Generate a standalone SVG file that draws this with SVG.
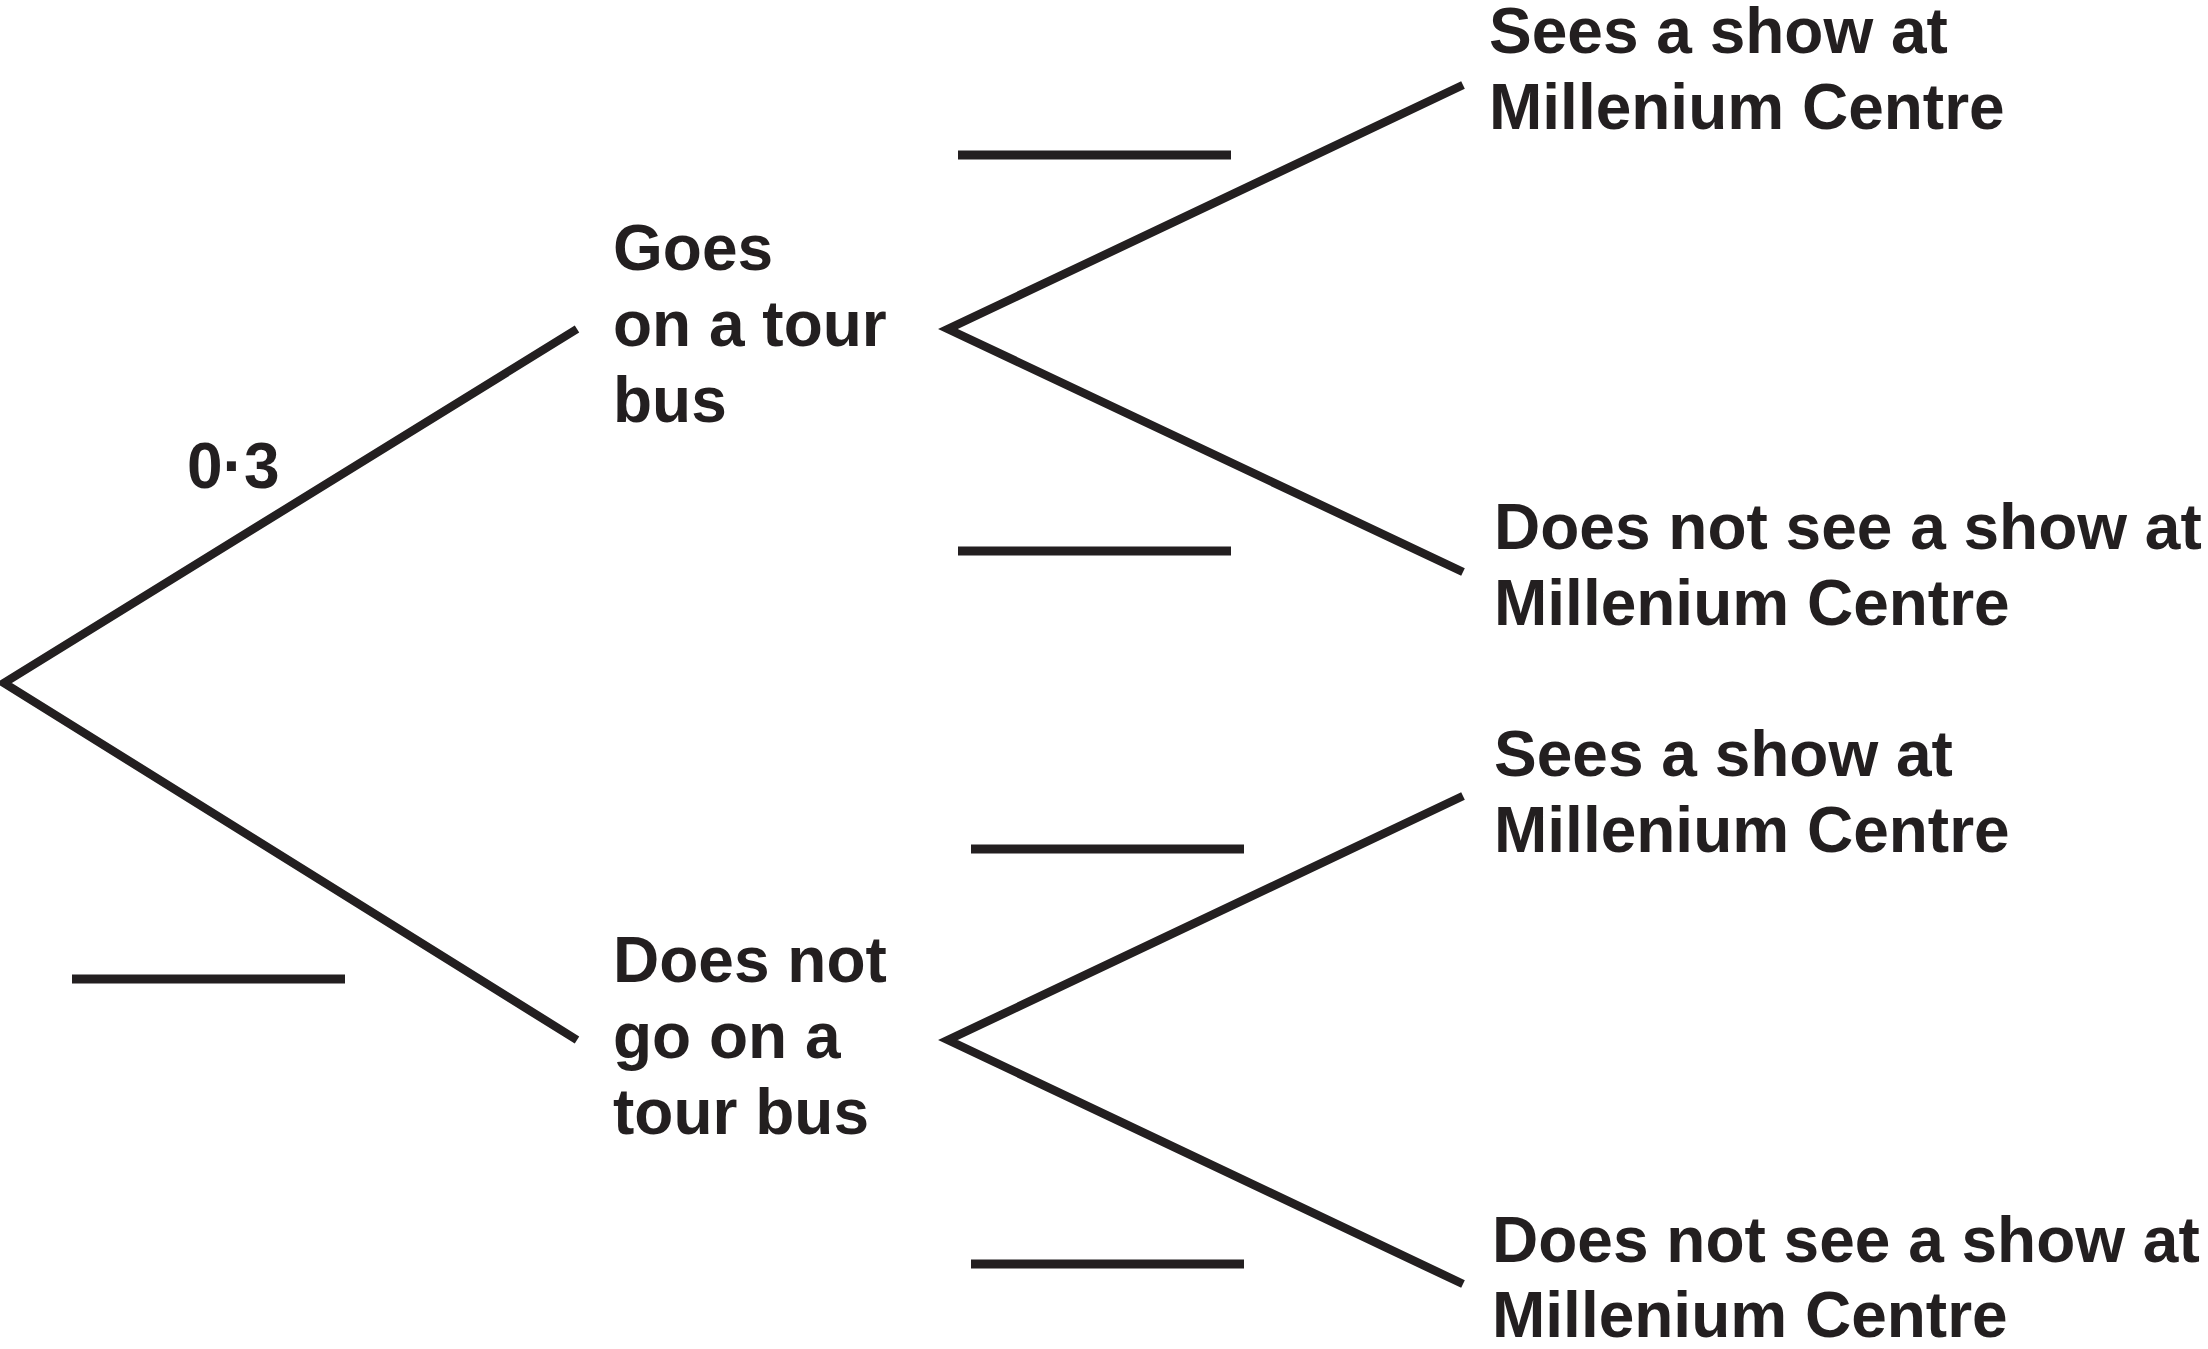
<svg xmlns="http://www.w3.org/2000/svg" width="2208" height="1349" viewBox="0 0 2208 1349">
<style>
.ln{fill:none;stroke:#231f20;stroke-width:8.5;stroke-linecap:butt;stroke-linejoin:miter;stroke-miterlimit:20}
.bl{stroke:#231f20;stroke-width:9}
text{font-family:"Liberation Sans",Arial,sans-serif;font-weight:bold;font-size:64px;fill:#231f20}
</style>
<rect width="2208" height="1349" fill="#ffffff"/>
<g id="connectors">
<polyline class="ln" points="577,329 4,683 577,1040"/>
<polyline class="ln" points="1463,85 948,329 1463,572"/>
<polyline class="ln" points="1463,796 948,1040 1463,1284"/>
</g>
<g id="blanks">
<line class="bl" x1="72" y1="979" x2="345" y2="979"/>
<line class="bl" x1="958" y1="155" x2="1231" y2="155"/>
<line class="bl" x1="958" y1="551" x2="1231" y2="551"/>
<line class="bl" x1="971" y1="849" x2="1244" y2="849"/>
<line class="bl" x1="971" y1="1264" x2="1244" y2="1264"/>
</g>
<g id="prob">
<text x="187" y="488">0·3</text>
</g>
<g id="node-goes">
<text x="613" y="270">Goes</text>
<text x="613" y="346">on a tour</text>
<text x="613" y="422">bus</text>
</g>
<g id="node-not-goes">
<text x="613" y="982">Does not</text>
<text x="613" y="1058">go on a</text>
<text x="613" y="1134">tour bus</text>
</g>
<g id="leaf-1">
<text x="1489" y="53">Sees a show at</text>
<text x="1489" y="129">Millenium Centre</text>
</g>
<g id="leaf-2">
<text x="1494" y="549">Does not see a show at</text>
<text x="1494" y="625">Millenium Centre</text>
</g>
<g id="leaf-3">
<text x="1494" y="776">Sees a show at</text>
<text x="1494" y="852">Millenium Centre</text>
</g>
<g id="leaf-4">
<text x="1492" y="1262">Does not see a show at</text>
<text x="1492" y="1337">Millenium Centre</text>
</g>
</svg>
